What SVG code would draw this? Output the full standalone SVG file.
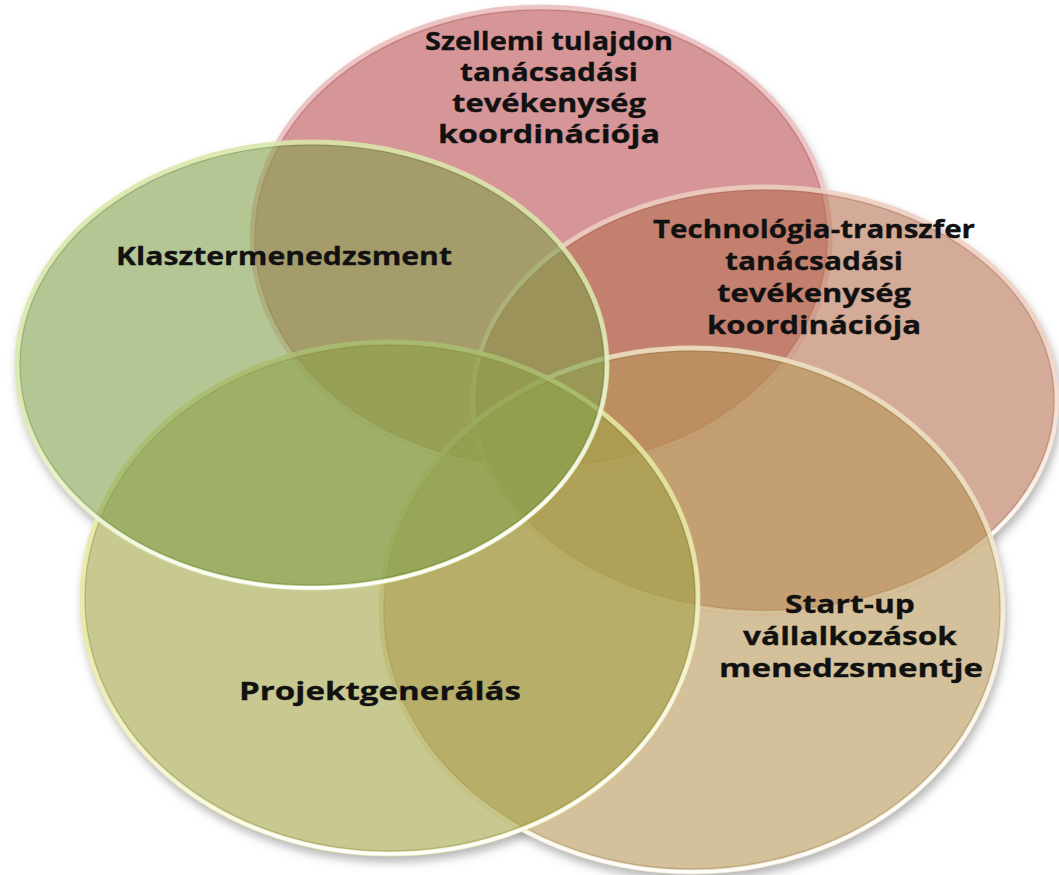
<svg xmlns="http://www.w3.org/2000/svg" width="1059" height="875" viewBox="0 0 1059 875">
  <defs>
    <style>
      .lbl { font-family: "Open Sans", "Lato", "Liberation Sans", sans-serif; font-weight: 700; font-size: 25px; fill: #111; stroke: #111; stroke-width: 0.3; text-anchor: middle; }
      .disc { fill-opacity: 0.6; }
      .rim { fill: none; stroke-width: 5; stroke-opacity: 0.7; }
      .gloss { fill: none; stroke: url(#gloss); stroke-width: 3.5; }
      .inner { fill: none; stroke-width: 1.5; stroke-opacity: 0.22; }
      .shade { fill: #7a7a7a; fill-opacity: 0.55; }
    </style>
    <!-- glassy highlight along the lower edge of every disc -->
    <linearGradient id="gloss" x1="0" y1="0" x2="0.25" y2="1">
      <stop offset="0" stop-color="#fff" stop-opacity="0.15"/>
      <stop offset="0.55" stop-color="#fff" stop-opacity="0.15"/>
      <stop offset="0.85" stop-color="#fff" stop-opacity="0.65"/>
      <stop offset="1" stop-color="#fff" stop-opacity="0.95"/>
    </linearGradient>
    <filter id="soft" x="-10%" y="-10%" width="120%" height="120%">
      <feGaussianBlur stdDeviation="5"/>
    </filter>
    <!-- shadows only show outside the discs -->
    <mask id="outside" maskUnits="userSpaceOnUse" x="0" y="0" width="1059" height="875">
      <rect x="0" y="0" width="1059" height="875" fill="#fff"/>
      <ellipse cx="541" cy="238" rx="291" ry="233" fill="#000"/>
      <ellipse cx="765" cy="400" rx="294" ry="215" fill="#000"/>
      <ellipse cx="692" cy="610" rx="313" ry="264" fill="#000"/>
      <ellipse cx="390" cy="598" rx="310" ry="258" fill="#000"/>
      <ellipse cx="312" cy="365" rx="297" ry="225" fill="#000"/>
    </mask>
  </defs>

  <rect x="0" y="0" width="1059" height="875" fill="#ffffff"/>

  <!-- soft drop shadows -->
  <g mask="url(#outside)">
    <g filter="url(#soft)">
      <ellipse class="shade" cx="543" cy="244" rx="291" ry="233"/>
      <ellipse class="shade" cx="767" cy="406" rx="294" ry="215"/>
      <ellipse class="shade" cx="694" cy="616" rx="313" ry="264"/>
      <ellipse class="shade" cx="392" cy="604" rx="310" ry="258"/>
      <ellipse class="shade" cx="314" cy="371" rx="297" ry="225"/>
    </g>
  </g>

  <!-- Szellemi tulajdon -->
  <g id="node-szellemi">
    <ellipse class="disc" cx="541" cy="238" rx="291" ry="233" fill="#bb5053"/>
    <ellipse class="inner" cx="541" cy="238" rx="286" ry="228" stroke="#7a2a2c"/>
    <ellipse class="rim" cx="541" cy="238" rx="289" ry="231" stroke="#f2c9c9"/>
    <ellipse class="gloss" cx="541" cy="238" rx="289" ry="231"/>
  </g>

  <!-- Technologia-transzfer -->
  <g id="node-technologia">
    <ellipse class="disc" cx="765" cy="400" rx="294" ry="215" fill="#b77153"/>
    <ellipse class="inner" cx="765" cy="400" rx="289" ry="210" stroke="#7a3f28"/>
    <ellipse class="rim" cx="765" cy="400" rx="292" ry="213" stroke="#f5d9cc"/>
    <ellipse class="gloss" cx="765" cy="400" rx="292" ry="213"/>
  </g>

  <!-- Start-up -->
  <g id="node-startup">
    <ellipse class="disc" cx="692" cy="610" rx="313" ry="264" fill="#b79858"/>
    <ellipse class="inner" cx="692" cy="610" rx="308" ry="259" stroke="#6e5520"/>
    <ellipse class="rim" cx="692" cy="610" rx="311" ry="262" stroke="#f6ecd0"/>
    <ellipse class="gloss" cx="692" cy="610" rx="311" ry="262"/>
  </g>

  <!-- Projektgeneralas -->
  <g id="node-projekt">
    <ellipse class="disc" cx="390" cy="598" rx="310" ry="258" fill="#a3a348"/>
    <ellipse class="inner" cx="390" cy="598" rx="305" ry="253" stroke="#60601c"/>
    <ellipse class="rim" cx="390" cy="598" rx="308" ry="256" stroke="#f2f2a8"/>
    <ellipse class="gloss" cx="390" cy="598" rx="308" ry="256"/>
  </g>

  <!-- Klasztermenedzsment -->
  <g id="node-klaszter">
    <ellipse class="disc" cx="312" cy="365" rx="297" ry="225" fill="#82a04d"/>
    <ellipse class="inner" cx="312" cy="365" rx="292" ry="220" stroke="#40601a"/>
    <ellipse class="rim" cx="312" cy="365" rx="295" ry="223" stroke="#e6f2b0"/>
    <ellipse class="gloss" cx="312" cy="365" rx="295" ry="223"/>
  </g>

  <!-- labels -->
  <g id="labels">
    <text class="lbl" x="549" y="50" textLength="248" lengthAdjust="spacingAndGlyphs">Szellemi tulajdon</text>
    <text class="lbl" x="549" y="81" textLength="178" lengthAdjust="spacingAndGlyphs">tanácsadási</text>
    <text class="lbl" x="549" y="112" textLength="194" lengthAdjust="spacingAndGlyphs">tevékenység</text>
    <text class="lbl" x="549" y="143" textLength="222" lengthAdjust="spacingAndGlyphs">koordinációja</text>

    <text class="lbl" x="284" y="265" textLength="336" lengthAdjust="spacingAndGlyphs">Klasztermenedzsment</text>

    <text class="lbl" x="814" y="238" textLength="322" lengthAdjust="spacingAndGlyphs">Technológia-transzfer</text>
    <text class="lbl" x="814" y="270" textLength="178" lengthAdjust="spacingAndGlyphs">tanácsadási</text>
    <text class="lbl" x="814" y="302" textLength="194" lengthAdjust="spacingAndGlyphs">tevékenység</text>
    <text class="lbl" x="814" y="334" textLength="214" lengthAdjust="spacingAndGlyphs">koordinációja</text>

    <text class="lbl" x="850" y="613" textLength="130" lengthAdjust="spacingAndGlyphs">Start-up</text>
    <text class="lbl" x="850" y="645" textLength="214" lengthAdjust="spacingAndGlyphs">vállalkozások</text>
    <text class="lbl" x="851" y="677" textLength="264" lengthAdjust="spacingAndGlyphs">menedzsmentje</text>

    <text class="lbl" x="380" y="700" textLength="282" lengthAdjust="spacingAndGlyphs">Projektgenerálás</text>
  </g>
</svg>
